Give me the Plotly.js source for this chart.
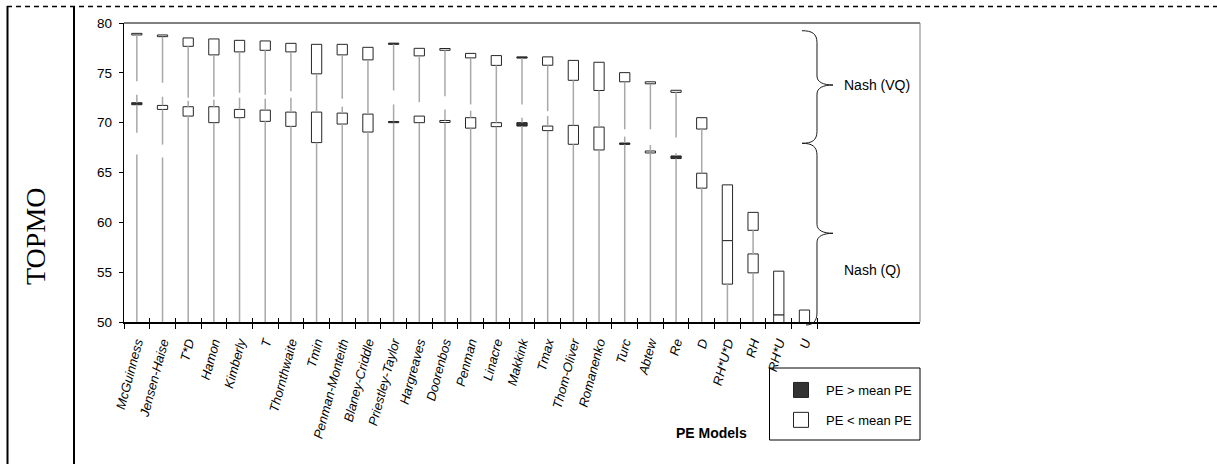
<!DOCTYPE html>
<html><head><meta charset="utf-8">
<script src="https://cdn.plot.ly/plotly-3.0.1.min.js"></script>
<style>html,body{margin:0;padding:0;background:#fff}#chart{width:1217px;height:464px}</style>
</head><body><div id="chart"></div>
<script>
// ---- data ----
const models = ["McGuinness","Jensen-Haise","T*D","Hamon","Kimberly","T","Thornthwaite","Tmin","Penman-Monteith","Blaney-Criddle","Priestley-Taylor","Hargreaves","Doorenbos","Penman","Linacre","Makkink","Tmax","Thom-Oliver","Romanenko","Turc","Abtew","Re","D","RH*U*D","RH","RH*U","U"];
// Nash (VQ) boxes
const vqHigh = [78.96,78.80,78.50,78.40,78.26,78.20,77.96,77.86,77.86,77.56,77.98,77.46,77.44,76.95,76.73,76.60,76.60,76.25,76.06,75.02,74.10,73.25,70.50,63.76,61.00,55.10,51.20];
const vqLow  = [78.80,78.63,77.66,76.80,77.10,77.26,77.10,74.90,76.80,76.30,77.86,76.70,77.26,76.50,75.75,76.48,75.76,74.25,73.23,74.10,73.90,73.04,69.36,58.16,59.20,50.70,48.00];
const vqAboveMean = [0,0,0,0,0,0,0,0,0,0,1,0,0,0,0,1,0,0,0,0,0,0,0,0,0,0,0];
// Nash (Q) boxes
const qHigh = [72.00,71.73,71.60,71.60,71.33,71.26,71.06,71.06,70.96,70.86,70.12,70.66,70.22,70.50,70.00,70.00,69.66,69.73,69.56,67.96,67.16,66.66,64.93,58.16,56.83,50.70,48.00];
const qLow  = [71.80,71.33,70.66,70.00,70.50,70.13,69.63,68.00,69.86,69.06,70.00,70.00,70.02,69.45,69.60,69.66,69.20,67.83,67.26,67.82,66.96,66.40,63.43,53.80,54.93,45.00,45.00];
const qAboveMean = [1,0,0,0,0,0,0,0,0,0,1,0,0,0,0,1,0,0,0,1,0,1,0,0,0,0,0];
// grey high-low lines: lower end of the VQ line, upper end of the Q line (null = none)
const vqLineEnd   = [74.16,74.00,72.50,72.60,73.00,72.80,73.16,71.06,72.40,70.86,73.23,72.06,72.66,71.83,70.00,71.83,71.16,69.73,69.56,69.33,69.33,68.50,64.93,null,56.83,null,null];
const qLineStart  = [72.80,72.60,72.20,72.30,72.50,72.40,72.50,null,71.60,null,71.83,null,71.33,71.20,null,70.50,70.66,null,null,68.60,67.76,66.93,null,null,null,null,null];
// breaks in the grey line below the Q box (end of upper part, start of lower part; null = unbroken)
const qLineBreakTop    = [69.00,67.80,null,null,null,null,null,null,null,null,null,null,null,null,null,null,null,null,null,null,null,null,null,null,null,null,null];
const qLineBreakBottom = [66.80,66.50,null,null,null,null,null,null,null,null,null,null,null,null,null,null,null,null,null,null,null,null,null,null,null,null,null];
const emptySlots = 4;
const yTicks = [50,55,60,65,70,75,80];
const legendNames = ["PE > mean PE","PE < mean PE"];
const legendColors = ["#333333","#ffffff"];

// ---- geometry helpers (pixels -> paper) ----
const L=124, R=920, T=23, B=322, W=R-L, H=B-T;
const px = x => (x-L)/W, py = y => (B-y)/H;

// ---- traces ----
const dark = {x:[],base:[],y:[]}, light = {x:[],base:[],y:[]};
models.forEach((m,i)=>{
  const a = vqAboveMean[i] ? dark : light;
  a.x.push(m); a.base.push(vqLow[i]); a.y.push(vqHigh[i]-vqLow[i]);
  const b = qAboveMean[i] ? dark : light;
  b.x.push(m); b.base.push(qLow[i]); b.y.push(qHigh[i]-qLow[i]);
});
const lx=[], ly=[];
models.forEach((m,i)=>{
  if (vqLineEnd[i]!==null){ lx.push(m,m,null); ly.push(vqLow[i],vqLineEnd[i],null); }
  if (qLineStart[i]!==null){ lx.push(m,m,null); ly.push(qLineStart[i],qHigh[i],null); }
  if (qLow[i]>50){
    if (qLineBreakTop[i]!==null){
      lx.push(m,m,null,m,m,null); ly.push(qLow[i],qLineBreakTop[i],null,qLineBreakBottom[i],40,null);
    } else { lx.push(m,m,null); ly.push(qLow[i],40,null); }
  }
});
const boxLine = {color:'#262626', width:1};
const traces = [
  {type:'scatter', mode:'lines', x:lx, y:ly, line:{color:'#a8a8a8', width:1.5}, showlegend:false, hoverinfo:'skip', connectgaps:false},
  {type:'bar', name:legendNames[0], x:dark.x, base:dark.base, y:dark.y, width:0.4, marker:{color:legendColors[0], line:boxLine}, showlegend:false},
  {type:'bar', name:legendNames[1], x:light.x, base:light.base, y:light.y, width:0.4, marker:{color:legendColors[1], line:boxLine}, showlegend:false},
  {type:'scatter', mode:'markers', name:legendNames[0], x:[null], y:[null], marker:{symbol:'square', size:15, color:legendColors[0], line:{color:'#222', width:1}}, legendgroup:'a'},
  {type:'scatter', mode:'markers', name:legendNames[1], x:[null], y:[null], marker:{symbol:'square', size:15, color:legendColors[1], line:{color:'#222', width:1}}, legendgroup:'b'},
  {type:'scatter', x:models, y:models.map(()=>null), xaxis:'x2', showlegend:false, hoverinfo:'skip'}
];

// ---- decorations ----
function bracePath(yTop, yBot, yTip, xeTop, xeBot){
  const xs=817, xt=833;
  const P=(x,y)=>px(x).toFixed(5)+','+py(y).toFixed(5);
  return 'M'+P(xeTop,yTop)+' C'+P(xs-5,yTop)+' '+P(xs,yTop+3)+' '+P(xs,yTop+12)+
    ' L'+P(xs,yTip-9)+' C'+P(xs,yTip-3)+' '+P(xs+6,yTip)+' '+P(xt,yTip)+
    ' C'+P(xs+6,yTip)+' '+P(xs,yTip+3)+' '+P(xs,yTip+9)+
    ' L'+P(xs,yBot-12)+' C'+P(xs,yBot-3)+' '+P(xs-5,yBot)+' '+P(xeBot,yBot);
}
const F = 'Liberation Sans, Arial, sans-serif';
const layout = {
  width:1217, height:464,
  margin:{l:L, r:1217-R, t:T, b:464-B, pad:0},
  paper_bgcolor:'#fff', plot_bgcolor:'#fff',
  barmode:'overlay',
  showlegend:true,
  font:{family:F, size:13, color:'#000'},
  xaxis:{type:'category', categoryorder:'array', categoryarray:models, range:[-0.5, models.length+emptySlots-0.5],
    tickson:'boundaries', ticks:'outside', ticklen:5, tickcolor:'#000', tickwidth:1,
    showline:true, linecolor:'#000', linewidth:1.6, showgrid:false, zeroline:false, ticklabelstandoff:6,
    tickangle:-75, tickfont:{family:F, size:13, style:'italic', color:'#000'}, fixedrange:true},
  xaxis2:{type:'category', overlaying:'x', anchor:'y', side:'bottom', categoryorder:'array', categoryarray:models,
    range:[-0.5, models.length+emptySlots-0.5], tickson:'boundaries', ticks:'inside', ticklen:4, tickcolor:'#000', tickwidth:1,
    showticklabels:false, showline:false, showgrid:false, zeroline:false},
  yaxis:{range:[50,80], tickvals:yTicks, ticktext:yTicks.map(String), ticks:'outside', ticklen:4, tickcolor:'#000', ticklabelstandoff:4,
    showline:true, linecolor:'#000', linewidth:1.3, showgrid:false, zeroline:false, tickfont:{family:F,size:13.5,color:'#000'}},
  legend:{x:px(776), xanchor:'left', y:py(375), yanchor:'top', borderwidth:0, bgcolor:'rgba(0,0,0,0)',
    font:{family:F,size:13,color:'#000'}, traceorder:'grouped', tracegroupgap:10, itemwidth:40, itemsizing:'trace'},
  shapes:[
    {type:'line', xref:'paper', yref:'paper', x0:0, x1:1, y0:1, y1:1, line:{color:'#000', width:1}},
    {type:'line', xref:'paper', yref:'paper', x0:1, x1:1, y0:0, y1:1, line:{color:'#7f7f7f', width:1}},
    {type:'line', xref:'paper', yref:'paper', x0:px(7), x1:px(1217), y0:py(6.5), y1:py(6.5), line:{color:'#000', width:1.5, dash:'5px,4px'}},
    {type:'line', xref:'paper', yref:'paper', x0:px(7.5), x1:px(7.5), y0:py(6), y1:py(464), line:{color:'#000', width:2}},
    {type:'line', xref:'paper', yref:'paper', x0:px(74), x1:px(74), y0:py(6), y1:py(464), line:{color:'#000', width:2}},
    {type:'rect', xref:'paper', yref:'paper', x0:px(769.5), x1:px(920), y0:py(368), y1:py(440), line:{color:'#000', width:1}, fillcolor:'rgba(0,0,0,0)'},
    {type:'path', xref:'paper', yref:'paper', path:bracePath(30.7,143.3,85,802,802), line:{color:'#1a1a1a', width:1}},
    {type:'path', xref:'paper', yref:'paper', path:bracePath(143.3,325,233.3,802,806), line:{color:'#1a1a1a', width:1}}
  ],
  annotations:[
    {text:'Nash (VQ)', xref:'paper', yref:'paper', x:px(842), y:py(85), xanchor:'left', yanchor:'middle', showarrow:false, font:{family:F,size:14,color:'#000'}},
    {text:'Nash (Q)', xref:'paper', yref:'paper', x:px(842), y:py(270), xanchor:'left', yanchor:'middle', showarrow:false, font:{family:F,size:14,color:'#000'}},
    {text:'PE Models', xref:'paper', yref:'paper', x:px(711), y:py(433), xanchor:'center', yanchor:'middle', showarrow:false, font:{family:F,size:14,color:'#000', weight:'bold'}},
    {text:'TOPMO', xref:'paper', yref:'paper', x:px(35), y:py(236), xanchor:'center', yanchor:'middle', textangle:-90, showarrow:false, font:{family:'Liberation Serif, Times New Roman, serif', size:28, color:'#000'}}
  ]
};
Plotly.newPlot('chart', traces, layout, {staticPlot:true, displayModeBar:false});
</script>
</body></html>
